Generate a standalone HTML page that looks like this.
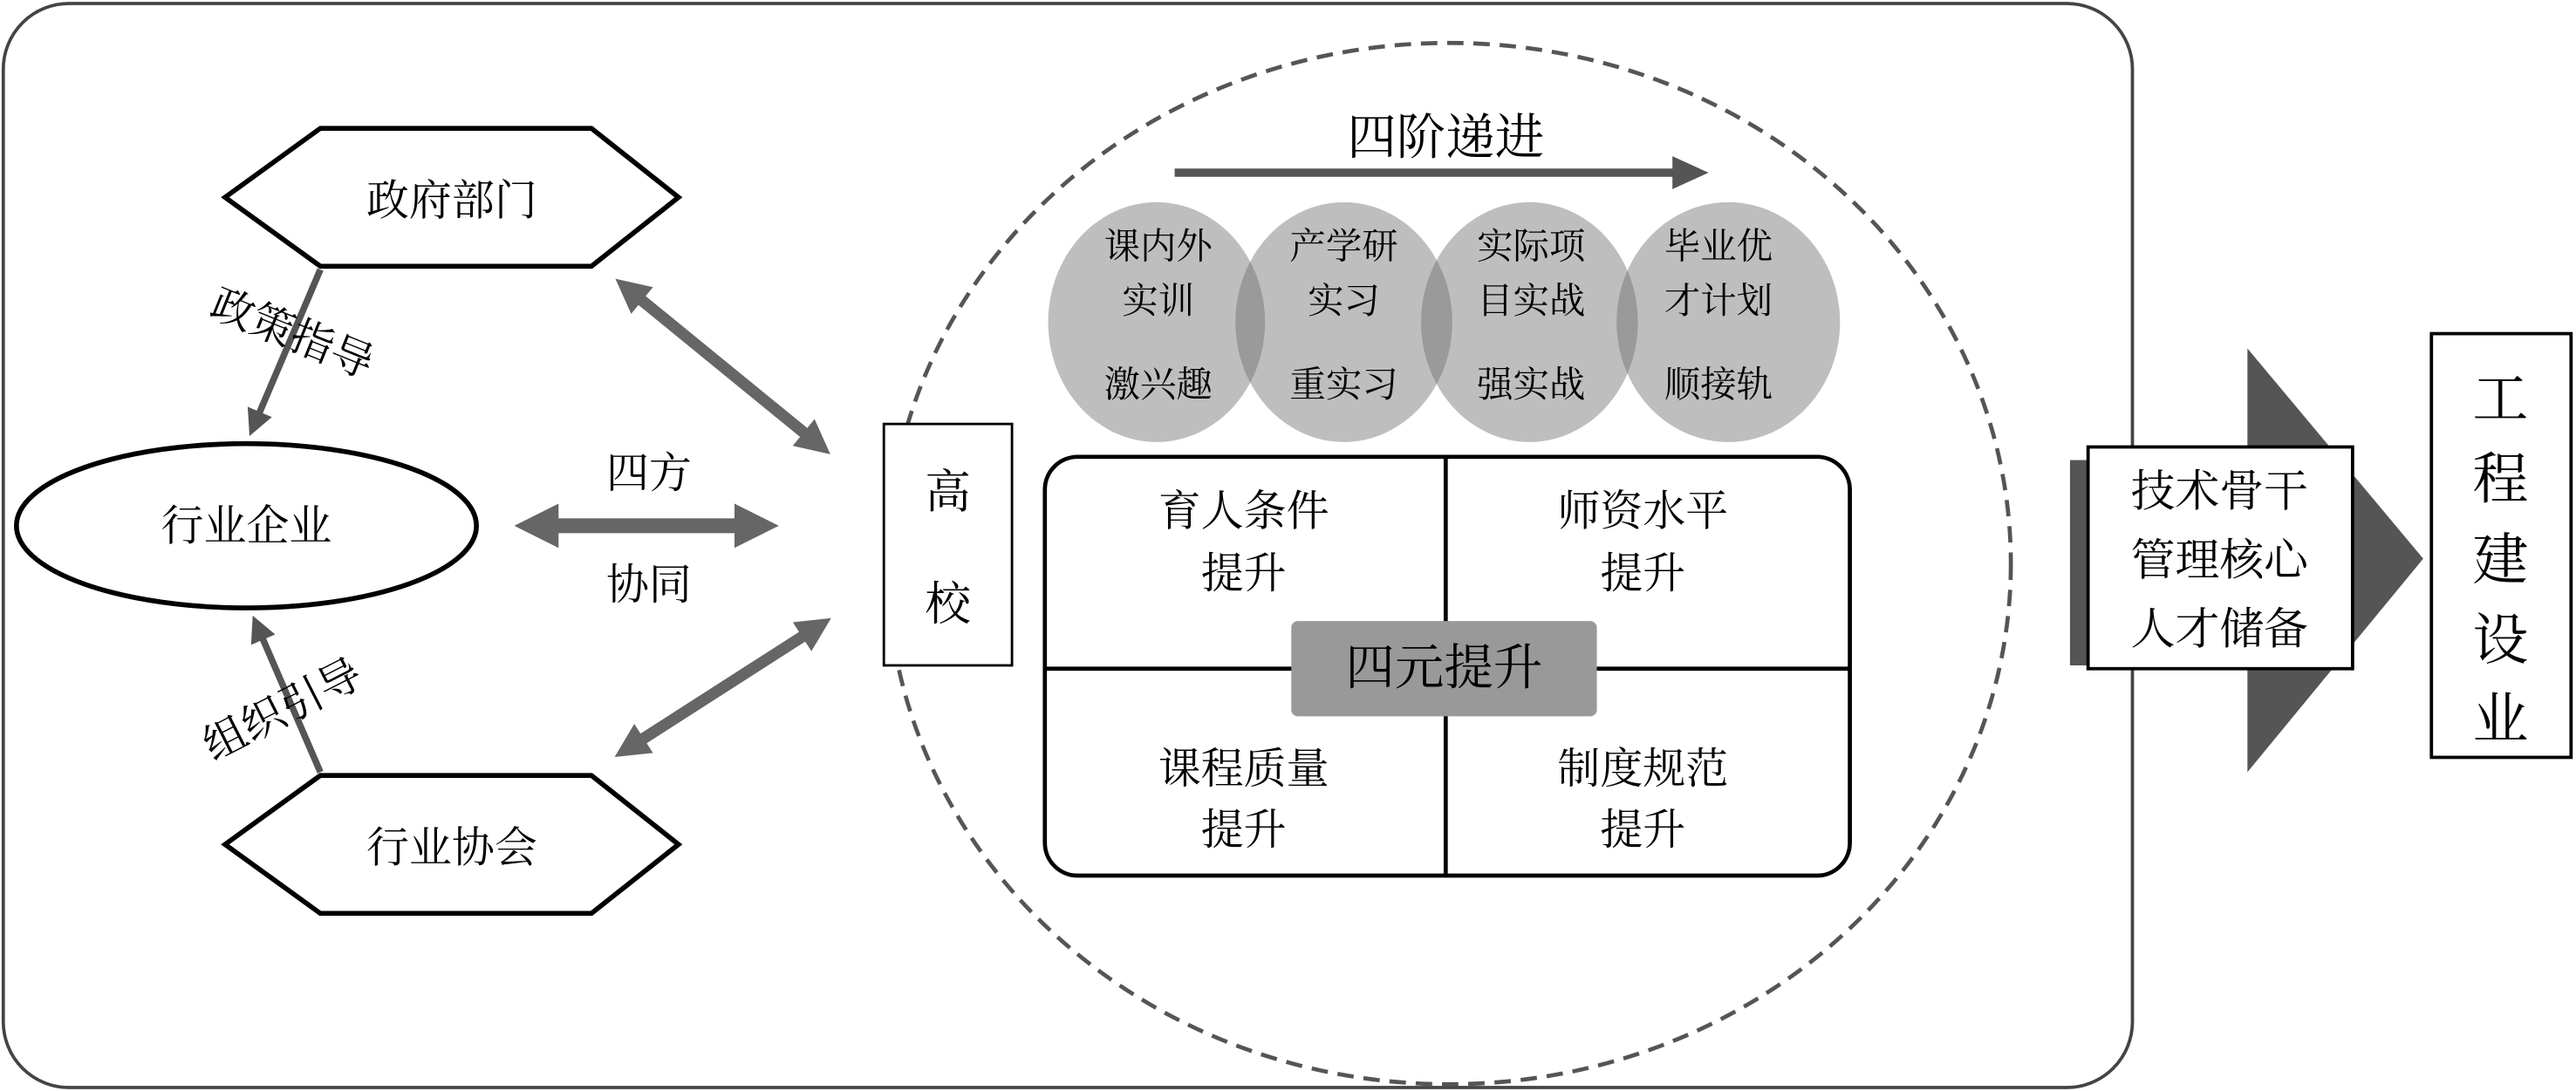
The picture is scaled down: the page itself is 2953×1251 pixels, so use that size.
<!DOCTYPE html>
<html><head><meta charset="utf-8"><style>html,body{margin:0;padding:0;background:#fff}svg{display:block}text{font-family:"Liberation Serif","Noto Serif CJK SC","Noto Sans CJK SC",serif;fill:#000;text-anchor:middle;dominant-baseline:central}</style></head>
<body>
<svg width="2953" height="1251" viewBox="0 0 1568 664" xmlns="http://www.w3.org/2000/svg">
<defs>
<marker id="ah" markerWidth="4" markerHeight="4" refX="2" refY="2" orient="auto" markerUnits="strokeWidth"><path d="M0,0 L4,2 L0,4 z" fill="#555"/></marker>
<marker id="ah2" markerWidth="3" markerHeight="3" refX="2" refY="1.5" orient="auto" markerUnits="strokeWidth"><path d="M0,0 L3,1.5 L0,3 z" fill="#666"/></marker>
<marker id="as2" markerWidth="3" markerHeight="3" refX="1" refY="1.5" orient="auto" markerUnits="strokeWidth"><path d="M3,0 L0,1.5 L3,3 z" fill="#666"/></marker>
</defs>
<rect x="2" y="2" width="1296" height="660" rx="40" fill="#fff" stroke="#444" stroke-width="2"/>
<ellipse cx="882" cy="343" rx="342" ry="317" fill="none" stroke="#555" stroke-width="2.5" stroke-dasharray="10,6"/>
<!-- left -->
<polygon points="137,120 195,78 360,78 413,120 360,162 195,162" fill="#fff" stroke="#000" stroke-width="3"/>
<text x="275" y="122" font-size="26">政府部门</text>
<polygon points="137,514 195,472 360,472 413,514 360,556 195,556" fill="#fff" stroke="#000" stroke-width="3"/>
<text x="275" y="516" font-size="26">行业协会</text>
<ellipse cx="150" cy="320" rx="140" ry="50" fill="#fff" stroke="#000" stroke-width="3"/>
<text x="150" y="320" font-size="26">行业企业</text>
<line x1="195" y1="164" x2="155" y2="258" stroke="#555" stroke-width="4" marker-end="url(#ah)"/>
<line x1="195" y1="470" x2="157" y2="382" stroke="#555" stroke-width="4" marker-end="url(#ah)"/>
<text x="178" y="203" font-size="26" transform="rotate(22 178 203)">政策指导</text>
<text x="172" y="432" font-size="26" transform="rotate(-27 172 432)">组织引导</text>
<line x1="380" y1="174" x2="500" y2="272" stroke="#666" stroke-width="7" marker-start="url(#as2)" marker-end="url(#ah2)"/>
<line x1="322" y1="320" x2="465" y2="320" stroke="#666" stroke-width="9" marker-start="url(#as2)" marker-end="url(#ah2)"/>
<line x1="380" y1="457" x2="500" y2="380" stroke="#666" stroke-width="7" marker-start="url(#as2)" marker-end="url(#ah2)"/>
<text x="395" y="288" font-size="26">四方</text>
<text x="395" y="356" font-size="26">协同</text>
<rect x="538" y="258" width="78" height="147" fill="#fff" stroke="#000" stroke-width="1.5"/>
<text x="577" y="300" font-size="28">高</text>
<text x="577" y="368" font-size="28">校</text>
<!-- top -->
<text x="880" y="84" font-size="30">四阶递进</text>
<line x1="715" y1="105" x2="1022" y2="105" stroke="#555" stroke-width="5"/>
<polygon points="1018,95 1040,105 1018,115" fill="#555"/>
<g fill="#6f6f6f" fill-opacity="0.45">
<ellipse cx="704" cy="196" rx="66" ry="73"/>
<ellipse cx="818" cy="196" rx="66" ry="73"/>
<ellipse cx="931" cy="196" rx="66" ry="73"/>
<ellipse cx="1052" cy="196" rx="68" ry="73"/>
</g>
<g font-size="22">
<text x="705" y="150">课内外</text><text x="705" y="183">实训</text><text x="705" y="234">激兴趣</text>
<text x="818" y="150">产学研</text><text x="818" y="183">实习</text><text x="818" y="234">重实习</text>
<text x="932" y="150">实际项</text><text x="932" y="183">目实战</text><text x="932" y="234">强实战</text>
<text x="1046" y="150">毕业优</text><text x="1046" y="183">才计划</text><text x="1046" y="234">顺接轨</text>
</g>
<rect x="636" y="278" width="490" height="255" rx="20" fill="#fff" stroke="#000" stroke-width="2.5"/>
<line x1="880" y1="278" x2="880" y2="533" stroke="#000" stroke-width="2.5"/>
<line x1="636" y1="407" x2="1126" y2="407" stroke="#000" stroke-width="2.5"/>
<rect x="786" y="378" width="186" height="58" rx="4" fill="#999"/>
<text x="879" y="407" font-size="30">四元提升</text>
<g font-size="26">
<text x="757" y="311">育人条件</text><text x="757" y="349">提升</text>
<text x="1000" y="311">师资水平</text><text x="1000" y="349">提升</text>
<text x="757" y="468">课程质量</text><text x="757" y="505">提升</text>
<text x="1000" y="468">制度规范</text><text x="1000" y="505">提升</text>
</g>
<!-- right -->
<rect x="1260" y="280" width="110" height="125" fill="#555"/>
<polygon points="1368,212 1475,340 1368,470" fill="#555"/>
<rect x="1271" y="272" width="161" height="135" fill="#fff" stroke="#000" stroke-width="2"/>
<g font-size="27"><text x="1351" y="299">技术骨干</text><text x="1351" y="341">管理核心</text><text x="1351" y="383">人才储备</text></g>
<rect x="1480" y="203" width="85" height="258" fill="#fff" stroke="#000" stroke-width="2"/>
<g font-size="34"><text x="1522" y="243">工</text><text x="1522" y="292">程</text><text x="1522" y="341">建</text><text x="1522" y="390">设</text><text x="1522" y="438">业</text></g>
</svg>
</body></html>
